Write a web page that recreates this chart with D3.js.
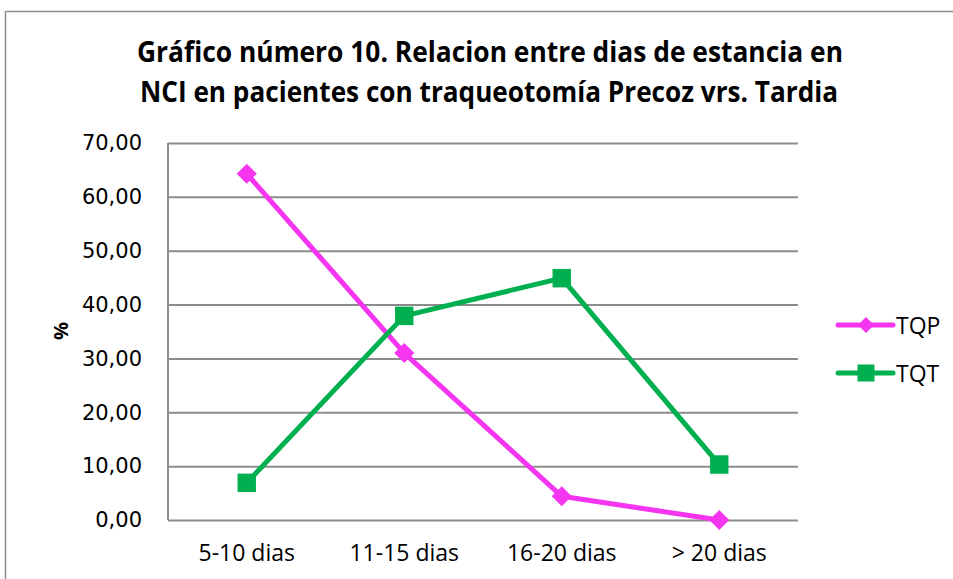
<!DOCTYPE html>
<meta charset="utf-8">
<style>
body { margin: 0; background: #fff; }
.grid line { stroke: #8c8c8c; stroke-width: 2; }
.grid path { display: none; }
.axis--y text { font-family: "DejaVu Sans"; font-size: 21px; fill: #000; }
.axis--x text { font-family: "Open Sans"; font-size: 23px; fill: #000; }
.title { font-family: "Open Sans"; font-weight: bold; font-size: 29px; }
.line { fill: none; stroke-width: 5px; stroke-linejoin: round; }
</style>
<body>
<svg width="953" height="579"></svg>
<script src="https://d3js.org/d3.v7.min.js"></script>
<script>

var categories = ["5-10 dias", "11-15 dias", "16-20 dias", "> 20 dias"];
var tqp = [64.29, 31.0, 4.4, 0.0];
var tqt = [6.9, 37.9, 44.9, 10.3];
var yTicks = [0, 10, 20, 30, 40, 50, 60, 70];
var seriesNames = ["TQP", "TQT"];
var seriesColors = ["#F535F0", "#00B050"];

var svg = d3.select("svg"),
    margin = {top: 143, right: 155, bottom: 59, left: 168},
    width = +svg.attr("width") - margin.left - margin.right,
    height = +svg.attr("height") - margin.top - margin.bottom;

// outer frame
svg.append("rect")
    .attr("x", 5.5).attr("y", 11.5)
    .attr("width", 960).attr("height", 600)
    .attr("fill", "none").attr("stroke", "#8c8c8c").attr("stroke-width", 1.5);

svg.append("text").attr("class", "title")
    .attr("x", 490).attr("y", 62).attr("text-anchor", "middle")
    .attr("textLength", 706).attr("lengthAdjust", "spacingAndGlyphs")
    .text("Gráfico número 10. Relacion entre dias de estancia en");
svg.append("text").attr("class", "title")
    .attr("x", 489).attr("y", 102).attr("text-anchor", "middle")
    .attr("textLength", 698).attr("lengthAdjust", "spacingAndGlyphs")
    .text("NCI en pacientes con traqueotomía Precoz vrs. Tardia");

var g = svg.append("g").attr("transform", "translate(" + margin.left + "," + margin.top + ")");

var x = d3.scaleBand().domain(categories).range([0, width]);
var y = d3.scaleLinear().domain([0, 70]).range([height, 0]);

g.append("g")
    .attr("class", "grid")
    .call(d3.axisLeft(y).tickValues(yTicks).tickSize(-width).tickFormat(""));

g.append("line")
    .attr("x1", 0).attr("x2", 0).attr("y1", 0).attr("y2", height)
    .attr("stroke", "#8c8c8c").attr("stroke-width", 2);

var yAxis = g.append("g")
    .attr("class", "axis axis--y")
    .call(d3.axisLeft(y).tickValues(yTicks).tickSize(0).tickPadding(26)
      .tickFormat(function(d) { return d3.format(".2f")(d).replace(".", ","); }));
yAxis.select(".domain").remove();

var xAxis = g.append("g")
    .attr("class", "axis axis--x")
    .attr("transform", "translate(0," + height + ")")
    .call(d3.axisBottom(x).tickSize(0).tickPadding(25));
xAxis.select(".domain").remove();

svg.append("text")
    .attr("transform", "translate(68,331) rotate(-90)")
    .attr("text-anchor", "middle")
    .style("font-family", "Open Sans").style("font-weight", "bold").style("font-size", "20px")
    .text("%");

var line = d3.line()
    .x(function(d, i) { return x(categories[i]) + x.bandwidth() / 2; })
    .y(function(d) { return y(d); });

var diamond = d3.symbol().type(d3.symbolSquare).size(200);
var square = d3.symbol().type(d3.symbolSquare).size(340);

function drawSeries(values, color, isDiamond) {
  g.append("path").datum(values)
    .attr("class", "line")
    .attr("stroke", color)
    .attr("d", line);
  g.selectAll(null).data(values).enter().append("path")
    .attr("d", isDiamond ? diamond : square)
    .attr("fill", color)
    .attr("transform", function(d, i) {
      return "translate(" + (x(categories[i]) + x.bandwidth() / 2) + "," + y(d) + ")" + (isDiamond ? " rotate(45)" : "");
    });
}

drawSeries(tqp, seriesColors[0], true);
drawSeries(tqt, seriesColors[1], false);

// legend
var legend = svg.append("g").attr("transform", "translate(838,325)");
seriesNames.forEach(function(name, i) {
  var lg = legend.append("g").attr("transform", "translate(0," + (i * 48) + ")");
  lg.append("line").attr("x1", 0).attr("x2", 55).attr("y1", 0).attr("y2", 0)
    .attr("stroke", seriesColors[i]).attr("stroke-width", 5).attr("stroke-linecap", "round");
  lg.append("path")
    .attr("d", i === 0 ? d3.symbol().type(d3.symbolSquare).size(130) : d3.symbol().type(d3.symbolSquare).size(290))
    .attr("fill", seriesColors[i])
    .attr("transform", "translate(28,0)" + (i === 0 ? " rotate(45)" : ""));
  lg.append("text").attr("x", 58).attr("y", 9)
    .style("font-family", "Open Sans").style("font-size", "23px")
    .text(name);
});

</script>
</body>
